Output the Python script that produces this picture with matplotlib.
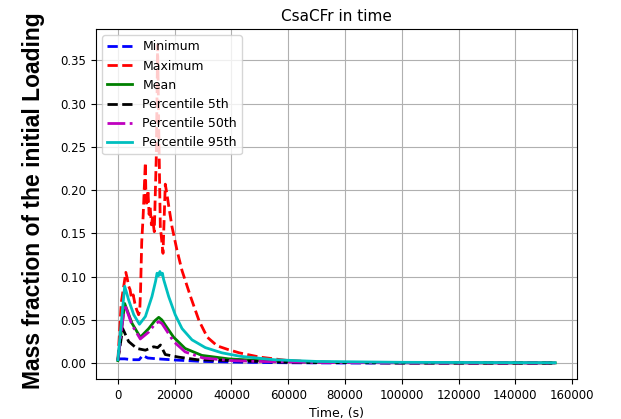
import matplotlib
matplotlib.use("Agg")
import matplotlib.pyplot as plt

# ---- data ----
t_min = [0, 2400, 5000, 7500, 8750, 10500, 14000, 21000, 30000, 45000, 60000, 80000, 120000, 154000]
v_min = [0.005, 0.005, 0.004, 0.004, 0.009, 0.006, 0.005, 0.0035, 0.002, 0.001, 0.0005, 0.0002, 0.0001, 0.0001]

t_max = [0, 1200, 2800, 3300, 3800, 4300, 4800, 5400, 6000, 6600, 7300, 7700, 8000, 8400, 8900, 9670,
         9900, 10260, 10600, 11000, 11400, 11800, 12200, 12830, 13540, 14000, 14500,
         14950, 15500, 15900, 16700, 17300, 17900, 19050, 20800, 22600, 25700, 28600,
         31500, 35000, 38600, 42700, 50000, 60000, 70000, 80000, 100000, 130000, 154000]
v_max = [0.003, 0.070, 0.105, 0.098, 0.089, 0.085, 0.075, 0.079, 0.069, 0.062, 0.056, 0.060, 0.085, 0.140, 0.170, 0.232,
         0.190, 0.182, 0.200, 0.172, 0.180, 0.160, 0.168, 0.152, 0.240, 0.368, 0.250,
         0.158, 0.140, 0.127, 0.207, 0.195, 0.182, 0.158, 0.131, 0.107, 0.076, 0.049,
         0.030, 0.020, 0.016, 0.012, 0.007, 0.003, 0.0015, 0.0008, 0.0004, 0.0002, 0.0002]

t_mean = [0, 2400, 5000, 7900, 10860, 13000, 14400, 15500, 16700, 19650, 23700, 29600, 39000, 50000, 70000, 100000, 154000]
v_mean = [0.003, 0.069, 0.046, 0.030, 0.040, 0.049, 0.053, 0.050, 0.044, 0.030, 0.017, 0.009, 0.005, 0.003, 0.001, 0.0005, 0.0003]

t_p5 = [0, 1700, 3800, 6700, 9700, 12600, 14000, 15000, 16700, 21400, 28000, 40000, 60000, 100000, 154000]
v_p5 = [0.003, 0.040, 0.025, 0.017, 0.015, 0.019, 0.018, 0.021, 0.010, 0.007, 0.004, 0.003, 0.001, 0.0003, 0.0002]

t_p50 = [0, 2400, 5000, 7900, 10860, 13000, 14400, 15500, 16700, 19650, 23700, 30000, 40000, 50000, 70000, 100000, 154000]
v_p50 = [0.003, 0.068, 0.044, 0.028, 0.036, 0.045, 0.048, 0.046, 0.040, 0.025, 0.013, 0.006, 0.003, 0.002, 0.0008, 0.0004, 0.0002]

t_p95 = [0, 2400, 3800, 5600, 7600, 9700, 12000, 13300, 13800, 14300, 14800, 15300, 15700, 16100, 17900, 20200, 22600, 26100, 30800, 36600, 43000, 55000, 70000, 100000, 154000]
v_p95 = [0.004, 0.089, 0.073, 0.056, 0.045, 0.054, 0.077, 0.095, 0.104, 0.101, 0.106, 0.102, 0.104, 0.097, 0.077, 0.056, 0.040, 0.027, 0.018, 0.012, 0.008, 0.004, 0.002, 0.001, 0.0005]

labels = ["Minimum", "Maximum", "Mean", "Percentile 5th", "Percentile 50th", "Percentile 95th"]

# ---- figure ----
fig = plt.figure(figsize=(6.21, 4.19), dpi=100)
ax = fig.add_axes([96 / 621, 1 - 379 / 419, (577 - 96) / 621, (379 - 29) / 419])

lw = 2
ax.plot(t_min, v_min, color="b", ls="--", lw=lw, label=labels[0])
ax.plot(t_max, v_max, color="r", ls="--", lw=lw, label=labels[1])
ax.plot(t_mean, v_mean, color="g", ls="-", lw=lw, label=labels[2])
ax.plot(t_p5, v_p5, color="k", ls="--", lw=lw, label=labels[3])
ax.plot(t_p50, v_p50, color="m", ls="-.", lw=lw, label=labels[4])
ax.plot(t_p95, v_p95, color="c", ls="-", lw=lw, label=labels[5])

ax.grid(True)
ax.set_xticks([0, 20000, 40000, 60000, 80000, 100000, 120000, 140000, 160000])
ax.tick_params(labelsize=8.5)
ax.set_title("CsaCFr in time", fontsize=11)
ax.set_xlabel("Time, (s)", fontsize=9)
ax.set_ylabel("Mass fraction of the initial Loading", fontsize=16.5,
              fontweight="bold", family=["Liberation Sans", "DejaVu Sans"])
ax.yaxis.set_label_coords(-0.106, 0.51)
ax.legend(loc="upper left", fontsize=9)

fig.savefig("out.png", dpi=100)
